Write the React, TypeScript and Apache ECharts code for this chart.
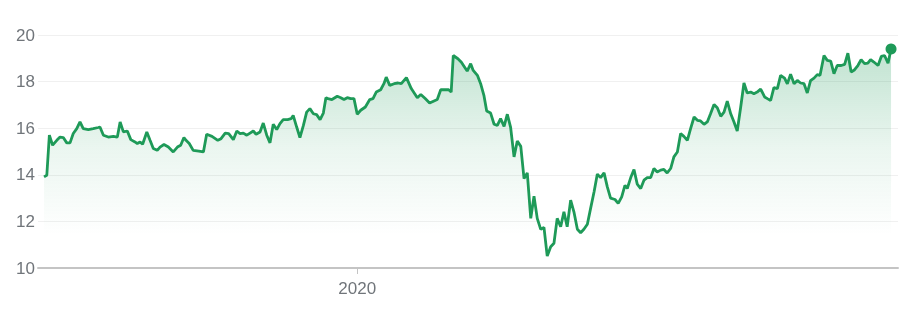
import React, { useEffect, useRef } from 'react';
import * as echarts from 'echarts';

// x position of each reading, in days since 2019-08-19
const days = [
  0, 1.2, 2.3, 3.7, 5.5, 6.9, 8.3, 9.8, 11.2, 12.6, 14.1, 15.5, 16.9, 19.1, 21.2, 23.4, 24.1, 25.6, 27.7, 29.9,
  31.6, 32.8, 34.2, 35.9, 37.4, 39.2, 40.2, 41.4, 42.5, 44.3, 45.7, 47.1, 48.8, 50.0, 51.7, 53.6, 55.7, 57.5, 58.9, 60.3,
  61.2, 62.6, 64.3, 66.7, 68.7, 70.1, 72.4, 74.9, 76.3, 78.1, 79.6, 81.6, 83.1, 84.5, 85.9, 87.4, 88.8, 90.2, 91.4, 93.1,
  94.5, 96.0, 97.4, 98.8, 100.3, 101.7, 103.1, 105.0, 106.5, 107.4, 108.9, 110.3, 111.8, 113.2, 114.6, 116.1, 117.5, 119.0, 120.4, 121.5,
  122.4, 124.1, 126.4, 127.9, 129.3, 130.7, 132.2, 133.6, 135.0, 136.5, 138.5, 140.4, 141.8, 143.2, 145.1, 146.5, 147.5, 149.0, 150.9, 152.6,
  154.0, 156.2, 158.3, 160.9, 162.4, 164.3, 166.2, 168.1, 169.5, 171.0, 173.0, 174.4, 175.5, 176.4, 178.4, 179.9, 181.3, 182.4, 183.9,
  185.0, 186.8, 188.2, 189.6, 190.8, 192.5, 194.0, 195.4, 196.8, 198.3, 199.7, 201.1, 202.6, 204.0, 205.5, 206.9, 208.3, 209.8, 211.2, 212.6,
  214.1, 215.5, 216.9, 218.4, 219.8, 221.2, 222.7, 224.1, 225.5, 227.0, 228.4, 229.9, 231.3, 232.7, 234.2, 235.6, 237.1, 238.5, 239.9, 241.4,
  242.8, 244.2,
  246.1, 247.5, 249.0, 250.4, 251.4, 252.9, 254.3, 255.7, 257.2, 258.6, 260.0, 261.5, 262.9, 264.3, 265.8, 267.2, 268.6, 270.1, 271.5, 273.0,
  274.4, 275.8, 277.3, 278.7, 280.2, 281.6, 283.0, 284.5, 285.9, 287.3, 288.8, 290.2, 291.7, 293.1, 294.5, 296.0, 297.4, 298.8, 300.3, 301.7,
  303.1, 304.6, 306.0,
  307.4, 308.9, 310.6, 311.8, 313.2, 314.6, 316.1, 317.5, 319.2, 320.4, 321.8, 323.3, 324.7, 326.1, 327.6, 329.0, 330.4, 331.9, 333.3, 334.5,
  336.2, 337.6, 339.1, 340.5, 341.9, 343.6, 345.1, 346.5, 347.9, 349.4, 350.8, 352.2, 353.7, 355.1, 356.3, 357.7, 359.5, 360.9, 362.3, 363.8,
  365.1,
];

const prices = [
  13.91, 13.98, 15.70, 15.27, 15.48, 15.62, 15.60, 15.37, 15.37, 15.77, 15.98, 16.27, 15.98, 15.94, 15.98, 16.03, 16.05, 15.70, 15.62, 15.65,
  15.62, 16.27, 15.84, 15.88, 15.51, 15.41, 15.34, 15.41, 15.31, 15.84, 15.48, 15.13, 15.05, 15.19, 15.30, 15.19, 14.98, 15.19, 15.27, 15.60,
  15.48, 15.34, 15.05, 15.02, 14.98, 15.74, 15.65, 15.48, 15.55, 15.79, 15.77, 15.51, 15.88, 15.77, 15.79, 15.70, 15.79, 15.88, 15.74, 15.84,
  16.22, 15.70, 15.37, 16.17, 15.94, 16.20, 16.37, 16.37, 16.41, 16.55, 16.05, 15.60, 16.12, 16.69, 16.84, 16.62, 16.58, 16.37, 16.65, 17.31,
  17.27, 17.23, 17.37, 17.31, 17.23, 17.31, 17.27, 17.27, 16.60, 16.77, 16.91, 17.23, 17.27, 17.55, 17.65, 17.91, 18.19, 17.84, 17.91, 17.94,
  17.91, 18.17, 17.70, 17.31, 17.45, 17.27, 17.08, 17.17, 17.23, 17.65, 17.65, 17.65, 17.55, 19.12, 18.98, 18.83, 18.62, 18.45, 18.77,
  18.48, 18.27, 17.91, 17.41, 16.74, 16.65, 16.17, 16.12, 16.41, 16.08, 16.60, 16.05, 14.77, 15.45, 15.22, 13.84, 14.08, 12.13, 13.08, 12.13,
  11.66, 11.74, 10.51, 10.91, 11.06, 12.13, 11.77, 12.41, 11.77, 12.91, 12.41, 11.66, 11.51, 11.66, 11.88, 12.56, 13.27, 14.03, 13.88, 14.08,
  13.48, 13.00,
  12.94, 12.77, 13.05, 13.55, 13.41, 13.88, 14.23, 13.60, 13.41, 13.77, 13.88, 13.88, 14.27, 14.12, 14.20, 14.23, 14.08, 14.27, 14.77, 14.98,
  15.77, 15.65, 15.48, 15.98, 16.48, 16.34, 16.31, 16.17, 16.27, 16.62, 17.02, 16.88, 16.51, 16.69, 17.16, 16.62, 16.27, 15.88, 16.91, 17.94,
  17.51, 17.55, 17.48,
  17.55, 17.68, 17.34, 17.27, 17.19, 17.74, 17.70, 18.27, 18.15, 17.90, 18.32, 17.91, 18.05, 17.94, 17.91, 17.51, 18.04, 18.15, 18.30, 18.27,
  19.12, 18.91, 18.88, 18.34, 18.69, 18.69, 18.74, 19.22, 18.41, 18.51, 18.69, 18.94, 18.77, 18.79, 18.94, 18.84, 18.69, 19.08, 19.12, 18.79,
  19.40,
];

const yMin = 10;
const yMax = 20;
const yStep = 2;
// 2020-01-01 is day 135 after 2019-08-19
const xTickDays = [135];
const xTickLabels = ['2020'];
const xMin = -2.6;
const xMax = 368.1;

const GREEN = '#1e9a58';
const LABEL = '#70757a';
const FONT = 'Arial, "Liberation Sans", sans-serif';

export default function App() {
  const ref = useRef<HTMLDivElement>(null);
  useEffect(() => {
    const chart = echarts.init(ref.current!, null, { renderer: 'svg' });
    const data = days.map((d, i) => [d, prices[i]]);
    const last = data[data.length - 1];
    chart.setOption({
      animation: false,
      grid: { left: 38, right: 14, top: 35, bottom: 41, containLabel: false },
      xAxis: {
        type: 'value',
        min: xMin,
        max: xMax,
        axisLine: { show: true, onZero: false, lineStyle: { color: '#c4c4c4', width: 2 } },
        axisTick: {
          show: true,
          customValues: xTickDays,
          length: 6,
          lineStyle: { color: '#c4c4c4', width: 1 },
        },
        axisLabel: {
          customValues: xTickDays,
          formatter: (v: number) => {
            const i = xTickDays.indexOf(v);
            return i >= 0 ? xTickLabels[i] : '';
          },
          color: LABEL,
          fontSize: 17,
          fontFamily: FONT,
          margin: 12,
        },
        splitLine: { show: false },
      },
      yAxis: {
        type: 'value',
        min: yMin,
        max: yMax,
        interval: yStep,
        axisLine: { show: false },
        axisTick: { show: false },
        axisLabel: { color: LABEL, fontSize: 17, fontFamily: FONT, margin: 3 },
        splitLine: { lineStyle: { color: '#f0f0f0', width: 1 } },
      },
      series: [
        {
          type: 'line',
          data,
          symbol: 'none',
          lineStyle: { color: GREEN, width: 2.8 },
          itemStyle: { color: GREEN },
          areaStyle: {
            color: new echarts.graphic.LinearGradient(0, 0, 0, 1, [
              { offset: 0, color: 'rgba(30,154,88,0.4)' },
              { offset: 0.45, color: 'rgba(30,154,88,0.13)' },
              { offset: 0.85, color: 'rgba(30,154,88,0)' },
              { offset: 1, color: 'rgba(30,154,88,0)' },
            ]),
          },
          z: 2,
        },
        {
          type: 'scatter',
          data: [last],
          symbol: 'circle',
          symbolSize: 11,
          itemStyle: { color: GREEN, opacity: 1 },
          z: 3,
        },
      ],
    });
    return () => chart.dispose();
  }, []);
  return (
    <div
      ref={ref}
      style={{ position: 'fixed', left: 0, top: 0, width: 912, height: 309 }}
    />
  );
}
